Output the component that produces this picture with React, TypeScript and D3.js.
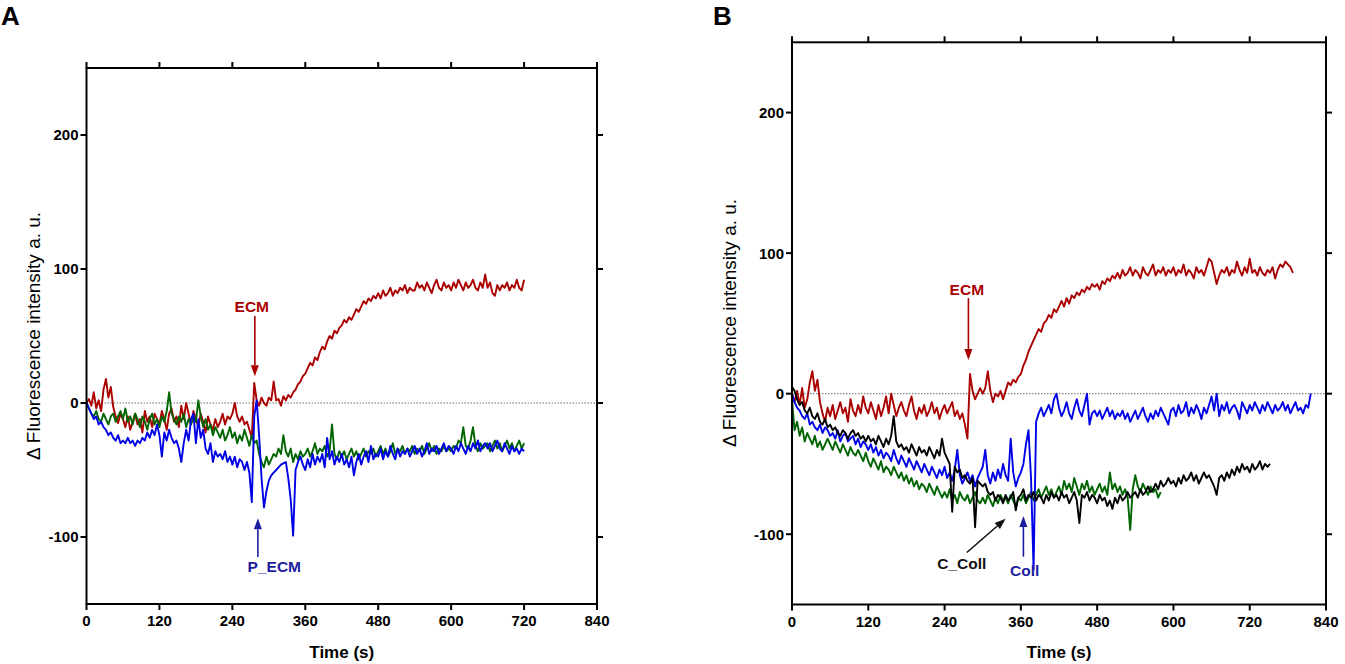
import React from "react";
import * as d3 from "d3";

// sampling interval of the recordings (s)
const STEP = 4;

const TIME_TICKS = [0, 120, 240, 360, 480, 600, 720, 840];
const VALUE_TICKS = [-100, 0, 100, 200];

// ---- Panel A ----
const aRed = [
  0, 3, -2, 8, -4, 2, -6, 10, 18, 4, 12, -3, -10, -15, -8,
  -12, -18, -10, -20, -14, -8, -16, -12, -22, -6, -14, -10, -18, -8, -12,
  -16, -6, -12, -20, -8, -4, -14, -10, -18, -2, -12, 0, -8, -16, -6,
  -12, -18, -8, -14, -22, -10, -16, -20, -12, -18, -14, -8, -16, -10, -12,
  -8, 0, -10, -14, -10, -16, -14, -20, -26, 15, 2, -2, 4, 0, -2,
  4, 2, 16, 2, 3, -2, 5, 2, 6, 4, 8, 10, 14, 16, 20,
  22, 26, 30, 28, 34, 32, 38, 42, 40, 46, 50, 48, 54, 52, 56,
  58, 62, 60, 64, 62, 66, 70, 68, 72, 76, 74, 78, 76, 80, 78,
  82, 78, 84, 80, 82, 86, 80, 84, 82, 86, 84, 88, 82, 86, 84,
  84, 90, 86, 88, 84, 90, 86, 82, 88, 92, 86, 84, 90, 86, 88,
  84, 90, 86, 92, 88, 84, 90, 86, 88, 92, 86, 84, 90, 86, 96,
  86, 90, 82, 80, 88, 84, 88, 86, 90, 84, 88, 86, 92, 86, 84,
  92,
];

const aGreen = [
  0, -4, -8, -10, -6, -12, -14, -8, -12, -16, -10, -8, -14, -10, -6,
  -12, -4, -14, -10, -16, -8, -12, -18, -10, -14, -20, -12, -8, -16, -12,
  -18, -10, -14, -6, 8, -8, -12, -16, -10, -14, -8, -18, -12, -16, -10,
  -14, 2, -10, -18, -12, -20, -16, -24, -18, -22, -26, -20, -28, -24, -18,
  -26, -22, -30, -24, -28, -20, -26, -32, -24, -30, -28, -38, -44, -48, -40,
  -46, -42, -38, -40, -34, -38, -24, -36, -40, -34, -44, -38, -42, -36, -40,
  -38, -34, -40, -36, -30, -38, -34, -36, -32, -40, -36, -16, -38, -42, -36,
  -40, -36, -42, -38, -34, -40, -36, -42, -38, -34, -40, -36, -38, -34, -40,
  -36, -32, -38, -34, -40, -36, -30, -38, -34, -36, -32, -38, -34, -36, -32,
  -38, -34, -36, -32, -38, -34, -30, -36, -32, -38, -34, -36, -32, -36, -34,
  -36, -32, -34, -28, -30, -18, -32, -34, -28, -18, -32, -36, -30, -34, -32,
  -30, -36, -32, -28, -34, -30, -36, -32, -28, -34, -30, -36, -32, -28, -34,
  -30,
];

const aBlue = [
  0, -4, -8, -12, -10, -16, -14, -18, -20, -24, -22, -26, -28, -24, -30,
  -28, -30, -26, -30, -28, -32, -28, -30, -26, -28, -22, -26, -20, -24, -16,
  -24, -40, -22, -28, -20, -26, -30, -28, -34, -44, -30, -20, -28, -12, -8,
  -30, -12, -26, -20, -34, -38, -30, -44, -36, -40, -38, -42, -36, -44, -40,
  -46, -40, -48, -42, -44, -50, -44, -52, -74, -10, 2, -24, -56, -78, -66,
  -58, -54, -52, -50, -48, -46, -45, -44, -56, -72, -99, -50, -44, -40, -46,
  -50, -42, -48, -38, -46, -40, -44, -38, -48, -26, -42, -36, -46, -40, -44,
  -38, -46, -42, -48, -40, -54, -44, -38, -46, -40, -36, -44, -32, -42, -38,
  -40, -34, -42, -36, -40, -32, -38, -42, -34, -40, -36, -38, -34, -40, -36,
  -32, -38, -34, -40, -36, -30, -38, -34, -36, -32, -38, -34, -30, -36, -32,
  -34, -38, -32, -36, -30, -34, -38, -32, -36, -30, -34, -28, -36, -32, -30,
  -34, -30, -36, -32, -28, -34, -36, -30, -34, -38, -32, -36, -34, -38, -34,
  -36,
];

// ---- Panel B ----
const bRed = [
  0, -6, 2, -8, 4, -10, -4, 8, 16, 2, 10, -6, -14, -20, -10,
  -16, -8, -18, -12, -6, -14, -10, -20, -4, -12, -16, -8, -14, -2, -10,
  -14, -6, -12, -18, -8, -16, -10, -2, -14, 0, -8, -16, -10, -6, -12,
  -16, -8, -2, -12, -18, -10, -14, -8, -16, -12, -6, -14, -10, -18, -12,
  -8, -14, -10, -6, -16, -12, -18, -14, -22, -32, 14, 2, -4, 0, 4,
  0, 4, 16, 2, -6, 0, -2, 2, -4, 2, 8, 6, 10, 8, 12,
  14, 20, 24, 30, 34, 38, 42, 46, 44, 50, 52, 56, 54, 60, 58,
  62, 66, 62, 68, 64, 70, 68, 72, 70, 74, 72, 76, 74, 78, 76,
  78, 74, 80, 78, 82, 80, 84, 82, 86, 82, 88, 84, 86, 90, 84,
  88, 86, 82, 90, 86, 84, 88, 92, 84, 88, 86, 90, 84, 88, 86,
  90, 84, 88, 86, 92, 84, 88, 86, 82, 90, 86, 88, 84, 90, 96,
  94, 86, 78, 84, 88, 86, 90, 84, 88, 86, 94, 88, 84, 90, 86,
  96, 86, 88, 84, 90, 86, 84, 88, 86, 90, 82, 88, 92, 90, 94,
  92, 90, 86,
];

const bBlue = [
  0, -6, -10, -12, -16, -18, -14, -22, -20, -24, -26, -22, -28, -24, -26,
  -30, -28, -32, -26, -34, -30, -28, -34, -32, -30, -36, -32, -38, -34, -36,
  -40, -36, -42, -38, -44, -40, -46, -42, -44, -48, -40, -46, -50, -44, -48,
  -52, -46, -50, -54, -48, -52, -56, -50, -54, -58, -52, -56, -60, -54, -58,
  -52, -60, -56, -62, -54, -40, -58, -64, -60, -56, -62, -58, -66, -60, -56,
  -52, -40, -58, -64, -56, -62, -54, -60, -50, -58, -62, -32, -56, -66, -60,
  -56, -50, -36, -26, -60, -125, -20, -14, -10, -16, -12, -8, -14, -4, 0,
  -10, -16, -12, -6, -14, -18, -10, -4, -12, -16, -8, 0, -22, -14, -12,
  -16, -12, -18, -14, -10, -16, -12, -18, -14, -16, -12, -18, -14, -20, -16,
  -12, -18, -14, -10, -16, -20, -14, -18, -12, -16, -10, -14, -18, -22, -12,
  -10, -16, -8, -14, -12, -6, -16, -10, -14, -8, -12, -18, -10, -14, -8,
  -2, -12, 0, -16, -8, -12, -6, -14, -10, -8, -12, -18, -6, -10, -14,
  -8, -12, -6, -10, -14, -8, -12, -6, -10, -14, -8, -12, -10, -6, -12,
  -8, -14, -10, -6, -12, -10, -14, -8, -10, 0,
];

const bGreen = [
  -4, -26, -20, -30, -24, -34, -28, -32, -36, -30, -38, -34, -40, -36, -32,
  -36, -40, -34, -38, -42, -36, -40, -44, -38, -42, -44, -40, -44, -48, -42,
  -48, -52, -46, -50, -54, -48, -56, -52, -54, -58, -52, -56, -60, -56, -62,
  -58, -64, -60, -66, -62, -68, -64, -66, -70, -64, -68, -72, -66, -70, -74,
  -70, -74, -68, -76, -72, -78, -70, -74, -76, -72, -78, -74, -70, -76, -78,
  -74, -78, -72, -76, -80, -74, -78, -72, -76, -74, -78, -72, -76, -80, -74,
  -76, -72, -78, -74, -70, -76, -72, -68, -74, -70, -66, -72, -68, -74, -70,
  -66, -72, -62, -68, -64, -70, -60, -66, -72, -64, -68, -62, -70, -66, -72,
  -68, -64, -70, -66, -72, -56, -68, -64, -70, -66, -72, -68, -74, -97, -68,
  -58, -66, -70, -64, -68, -72, -66, -70, -68, -74, -70,
];

const bBlack = [
  5, 2, -4, -8, -6, -12, -14, -10, -16, -18, -14, -20, -22, -18, -24,
  -22, -26, -24, -28, -30, -26, -28, -32, -28, -26, -30, -28, -32, -30, -34,
  -30, -34, -32, -36, -30, -34, -38, -32, -36, -30, -16, -34, -38, -36, -40,
  -38, -42, -36, -40, -44, -38, -42, -40, -44, -38, -42, -46, -40, -44, -32,
  -42, -46, -50, -84, -52, -56, -54, -60, -58, -62, -64, -60, -95, -62, -64,
  -66, -64, -70, -72, -70, -76, -72, -74, -78, -72, -76, -74, -70, -83, -74,
  -72, -68, -76, -72, -74, -70, -76, -72, -74, -78, -72, -76, -70, -74, -72,
  -76, -70, -74, -72, -78, -74, -70, -76, -92, -72, -74, -70, -76, -72, -74,
  -78, -72, -76, -74, -80, -76, -82, -74, -78, -72, -76, -74, -70, -74, -72,
  -70, -74, -68, -72, -70, -66, -70, -68, -64, -68, -62, -66, -64, -60, -64,
  -62, -66, -60, -64, -58, -62, -60, -56, -62, -58, -64, -60, -56, -60, -58,
  -62, -66, -72, -60, -58, -62, -56, -60, -54, -58, -52, -56, -50, -54, -52,
  -56, -50, -54, -52, -48, -54, -50, -52, -50,
];

const RED = "#aa0000";
const GREEN = "#006400";
const BLUE = "#0000e6";
const NAVY = "#1c1ca0";
const BLACK = "#000000";

const FONT = "'Liberation Sans', Arial, sans-serif";

type Series = { color: string; values: number[] };
type Note = {
  text: string;
  color: string;
  textT: number;
  textV: number;
  fromT: number;
  fromV: number;
  toT: number;
  toV: number;
};

const seriesA: Series[] = [
  { color: RED, values: aRed },
  { color: GREEN, values: aGreen },
  { color: BLUE, values: aBlue },
];

const seriesB: Series[] = [
  { color: RED, values: bRed },
  { color: GREEN, values: bGreen },
  { color: BLUE, values: bBlue },
  { color: BLACK, values: bBlack },
];

const notesA: Note[] = [
  { text: "ECM", color: RED, textT: 272, textV: 68, fromT: 277, fromV: 65, toT: 277, toV: 20 },
  { text: "P_ECM", color: NAVY, textT: 309, textV: -126, fromT: 282, fromV: -115, toT: 282, toV: -86 },
];

const notesB: Note[] = [
  { text: "ECM", color: RED, textT: 275, textV: 70, fromT: 277.5, fromV: 68, toT: 277.5, toV: 24 },
  { text: "C_Coll", color: "#111111", textT: 267, textV: -125, fromT: 275, fromV: -113, toT: 336, toV: -89 },
  { text: "Coll", color: NAVY, textT: 366, textV: -130, fromT: 364, fromV: -116, toT: 364, toV: -87 },
];

function Arrow({ x1, y1, x2, y2, color }: { x1: number; y1: number; x2: number; y2: number; color: string }) {
  const head = 11;
  const half = 4;
  const a = Math.atan2(y2 - y1, x2 - x1);
  const bx = x2 - head * Math.cos(a);
  const by = y2 - head * Math.sin(a);
  const px = -Math.sin(a) * half;
  const py = Math.cos(a) * half;
  return (
    <g>
      <line x1={x1} y1={y1} x2={bx} y2={by} stroke={color} strokeWidth={1.6} />
      <path d={`M${x2},${y2}L${bx + px},${by + py}L${bx - px},${by - py}Z`} fill={color} />
    </g>
  );
}

type PanelProps = {
  letter: string;
  letterX: number;
  left: number;
  right: number;
  top: number;
  bottom: number;
  titleX: number;
  titleY: number;
  series: Series[];
  notes: Note[];
};

function Panel({ letter, letterX, left, right, top, bottom, titleX, titleY, series, notes }: PanelProps) {
  const x = d3.scaleLinear().domain([0, 840]).range([left, right]);
  const y = d3.scaleLinear().domain([-150, 250]).range([bottom, top]);
  const line = d3
    .line<number>()
    .x((_, i) => x(i * STEP))
    .y((v) => y(v));
  const tick = 6;

  return (
    <g>
      <text x={letterX} y={25} fontFamily={FONT} fontWeight="bold" fontSize={26}>
        {letter}
      </text>

      {/* zero reference */}
      <line x1={x(0)} x2={x(840)} y1={y(0)} y2={y(0)} stroke="#444" strokeWidth={0.8} strokeDasharray="1.5,1.5" />

      {series.map((s, i) => (
        <path key={i} d={line(s.values) || ""} fill="none" stroke={s.color} strokeWidth={1.9} strokeLinejoin="round" />
      ))}

      {/* frame */}
      <rect x={left} y={top} width={right - left} height={bottom - top} fill="none" stroke="#000" strokeWidth={2} />

      {TIME_TICKS.map((t) => (
        <g key={t}>
          <line x1={x(t)} x2={x(t)} y1={bottom} y2={bottom + tick} stroke="#000" strokeWidth={2} />
          <line x1={x(t)} x2={x(t)} y1={top} y2={top - tick} stroke="#000" strokeWidth={2} />
          <text x={x(t)} y={bottom + 22} textAnchor="middle" fontFamily={FONT} fontWeight="bold" fontSize={15}>
            {t}
          </text>
        </g>
      ))}

      {VALUE_TICKS.map((v) => (
        <g key={v}>
          <line x1={left - tick} x2={left} y1={y(v)} y2={y(v)} stroke="#000" strokeWidth={2} />
          <line x1={right} x2={right + tick} y1={y(v)} y2={y(v)} stroke="#000" strokeWidth={2} />
          <text x={left - 8} y={y(v)} dy="0.36em" textAnchor="end" fontFamily={FONT} fontWeight="bold" fontSize={15}>
            {v}
          </text>
        </g>
      ))}

      <text
        x={(left + right) / 2}
        y={658}
        textAnchor="middle"
        fontFamily={FONT}
        fontWeight="bold"
        fontSize={17}
      >
        Time (s)
      </text>

      <text
        transform={`translate(${titleX},${titleY}) rotate(-90)`}
        textAnchor="middle"
        dy="0.35em"
        fontFamily={FONT}
        fontSize={19}
      >
        Δ Fluorescence intensity a. u.
      </text>

      {notes.map((n, i) => (
        <g key={i}>
          <Arrow x1={x(n.fromT)} y1={y(n.fromV)} x2={x(n.toT)} y2={y(n.toV)} color={n.color} />
          <text
            x={x(n.textT)}
            y={y(n.textV)}
            textAnchor="middle"
            fontFamily={FONT}
            fontWeight="bold"
            fontSize={15.5}
            fill={n.color}
          >
            {n.text}
          </text>
        </g>
      ))}
    </g>
  );
}

export default function App() {
  return (
    <svg
      width={1345}
      height={664}
      style={{ position: "absolute", left: 0, top: 0, background: "#fff" }}
    >
      <Panel
        letter="A"
        letterX={1}
        left={86.5}
        right={597}
        top={68}
        bottom={604}
        titleX={33.5}
        titleY={336}
        series={seriesA}
        notes={notesA}
      />
      <Panel
        letter="B"
        letterX={713}
        left={792}
        right={1326}
        top={42.3}
        bottom={604.5}
        titleX={729.6}
        titleY={323}
        series={seriesB}
        notes={notesB}
      />
    </svg>
  );
}
